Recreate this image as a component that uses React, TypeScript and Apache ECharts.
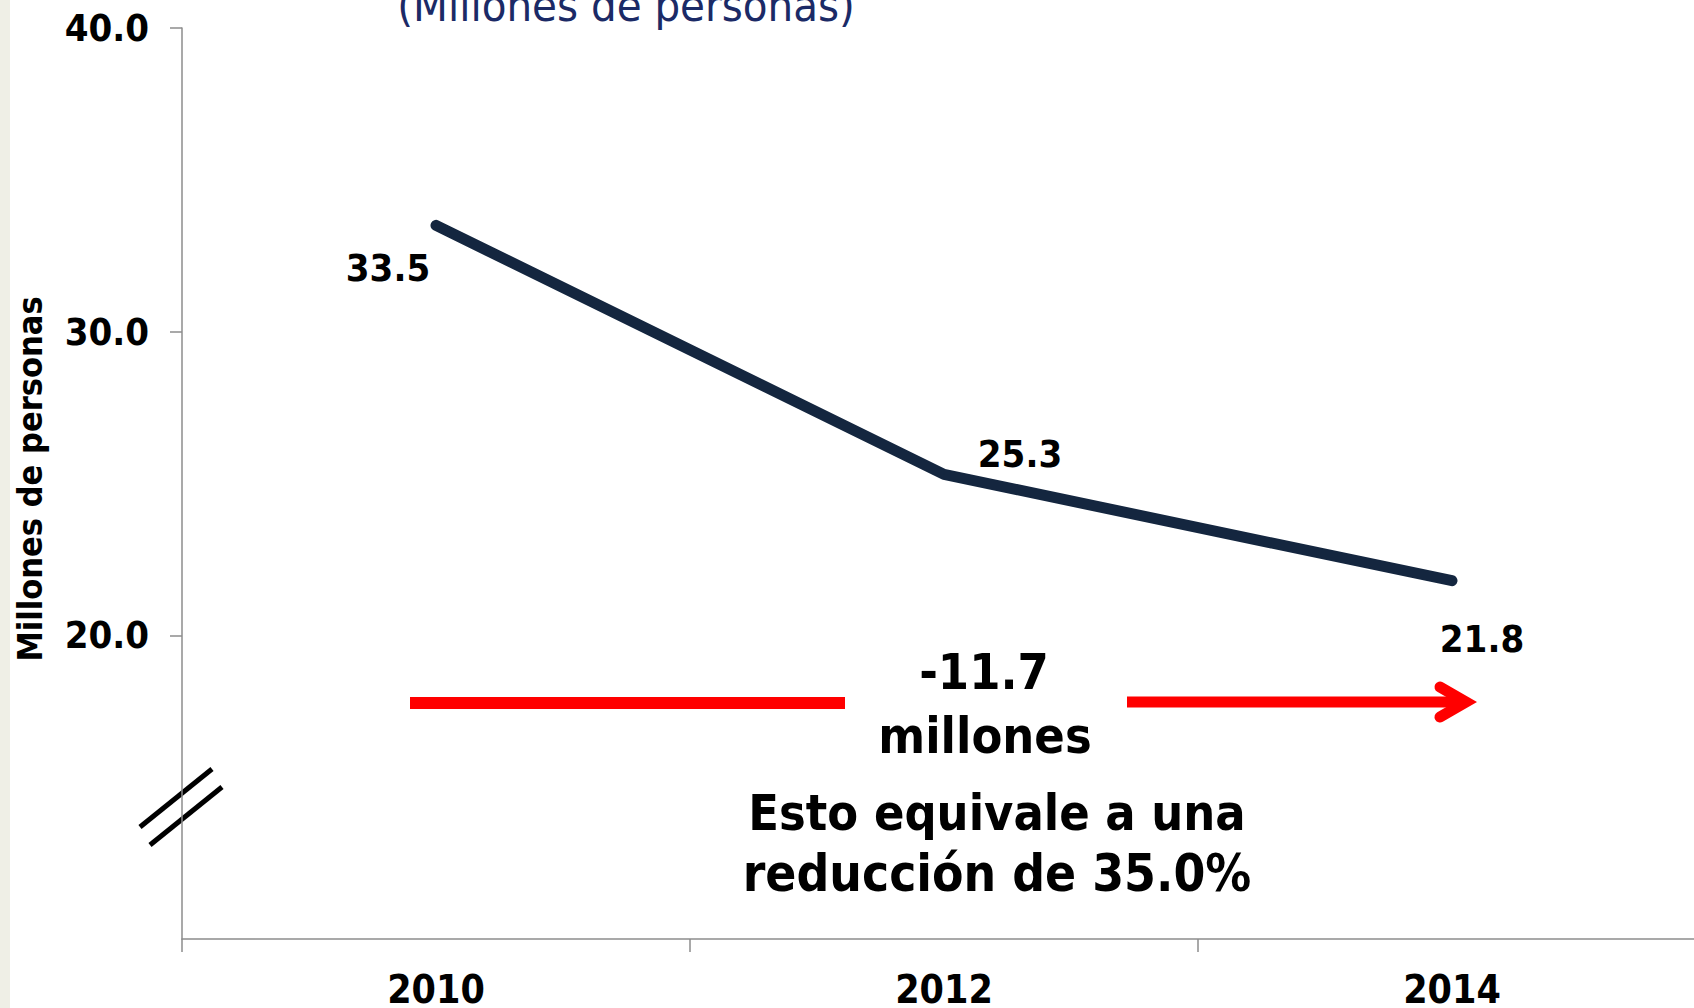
import React, { useEffect, useRef } from "react";
import * as echarts from "echarts";

const years = ["2010", "2012", "2014"];
const personas = [33.5, 25.3, 21.8];
const yTickValues = [20, 30, 40];
const labelOffsets = [
  [-48, 43],
  [76, -20],
  [30, 58],
];

const FONT = "'DejaVu Sans Condensed', 'DejaVu Sans', sans-serif";

export default function App() {
  const ref = useRef<HTMLDivElement>(null);
  useEffect(() => {
    if (!ref.current) return;
    const chart = echarts.init(ref.current, null, { renderer: "svg" });
    const axisGray = "#8c8c8c";
    const option: any = {
      animation: false,
      backgroundColor: "#ffffff",
      grid: {
        left: 182,
        top: 28,
        width: 1524,
        bottom: 69,
        containLabel: false,
        outerBoundsMode: "none",
      },
      xAxis: {
        type: "category",
        data: years,
        boundaryGap: true,
        axisLine: { show: true, lineStyle: { color: axisGray, width: 1.5 } },
        axisTick: { show: true, length: 13, lineStyle: { color: axisGray, width: 1.5 } },
        axisLabel: {
          fontSize: 39,
          fontWeight: "bold",
          fontFamily: FONT,
          color: "#000",
          margin: 31,
        },
        splitLine: { show: false },
      },
      yAxis: {
        type: "value",
        min: 10,
        max: 40,
        interval: 10,
        axisLine: { show: true, lineStyle: { color: axisGray, width: 1.5 } },
        axisTick: {
          show: true,
          length: 12,
          customValues: yTickValues,
          lineStyle: { color: axisGray, width: 1.5 },
        },
        axisLabel: {
          customValues: yTickValues,
          formatter: (v: number) => (v === 10 ? "" : v.toFixed(1)),
          fontSize: 38,
          fontWeight: "bold",
          fontFamily: FONT,
          color: "#000",
          margin: 33,
        },
        splitLine: { show: false },
      },
      series: [
        {
          type: "line",
          data: personas.map((v, i) => ({ value: v, label: { offset: labelOffsets[i] } })),
          symbol: "circle",
          symbolSize: 1,
          showSymbol: true,
          lineStyle: { color: "#14263f", width: 11, cap: "round", join: "round" },
          itemStyle: { color: "#14263f" },
          label: {
            show: true,
            position: "inside",
            formatter: (p: any) => Number(p.value).toFixed(1),
            fontSize: 38,
            fontWeight: "bold",
            fontFamily: FONT,
            color: "#000",
            align: "center",
            verticalAlign: "middle",
          },
        },
      ],
      graphic: [
        { type: "rect", shape: { x: 0, y: 0, width: 10, height: 1008 }, style: { fill: "#efefe6" } },
        {
          type: "text",
          x: 626,
          y: 28,
          style: {
            text: "(Millones de personas)",
            fontSize: 45,
            fontFamily: FONT,
            fontWeight: "normal",
            fill: "#1b2a66",
            align: "center",
            verticalAlign: "bottom",
          },
        },
        {
          type: "text",
          x: 30,
          y: 479,
          rotation: Math.PI / 2,
          style: {
            text: "Millones de personas",
            fontSize: 34,
            fontFamily: FONT,
            fontWeight: "bold",
            fill: "#000",
            align: "center",
            verticalAlign: "middle",
          },
        },
        { type: "line", shape: { x1: 140, y1: 827, x2: 212, y2: 769 }, style: { stroke: "#000", lineWidth: 5 } },
        { type: "line", shape: { x1: 150, y1: 845, x2: 222, y2: 787 }, style: { stroke: "#000", lineWidth: 5 } },
        { type: "line", shape: { x1: 410, y1: 703, x2: 845, y2: 703 }, style: { stroke: "#ff0000", lineWidth: 12 } },
        { type: "line", shape: { x1: 1127, y1: 702, x2: 1466, y2: 702 }, style: { stroke: "#ff0000", lineWidth: 11 } },
        {
          type: "polyline",
          shape: { points: [[1440, 687], [1466, 702], [1440, 717]] },
          style: { stroke: "#ff0000", lineWidth: 11, lineCap: "round", lineJoin: "miter", fill: "none" },
        },
        {
          type: "text",
          x: 984,
          y: 672,
          style: { text: "-11.7", fontSize: 50, fontWeight: "bold", fontFamily: FONT, fill: "#000", align: "center", verticalAlign: "middle" },
        },
        {
          type: "text",
          x: 985,
          y: 736,
          style: { text: "millones", fontSize: 50, fontWeight: "bold", fontFamily: FONT, fill: "#000", align: "center", verticalAlign: "middle" },
        },
        {
          type: "text",
          x: 997,
          y: 813,
          style: { text: "Esto equivale a una", fontSize: 50, fontWeight: "bold", fontFamily: FONT, fill: "#000", align: "center", verticalAlign: "middle" },
        },
        {
          type: "text",
          x: 997,
          y: 873,
          style: { text: "reducción de 35.0%", fontSize: 51, fontWeight: "bold", fontFamily: FONT, fill: "#000", align: "center", verticalAlign: "middle" },
        },
      ],
    };
    chart.setOption(option);
    return () => chart.dispose();
  }, []);
  return (
    <div
      ref={ref}
      style={{ position: "fixed", left: 0, top: 0, width: 1694, height: 1008, background: "#fff" }}
    />
  );
}
